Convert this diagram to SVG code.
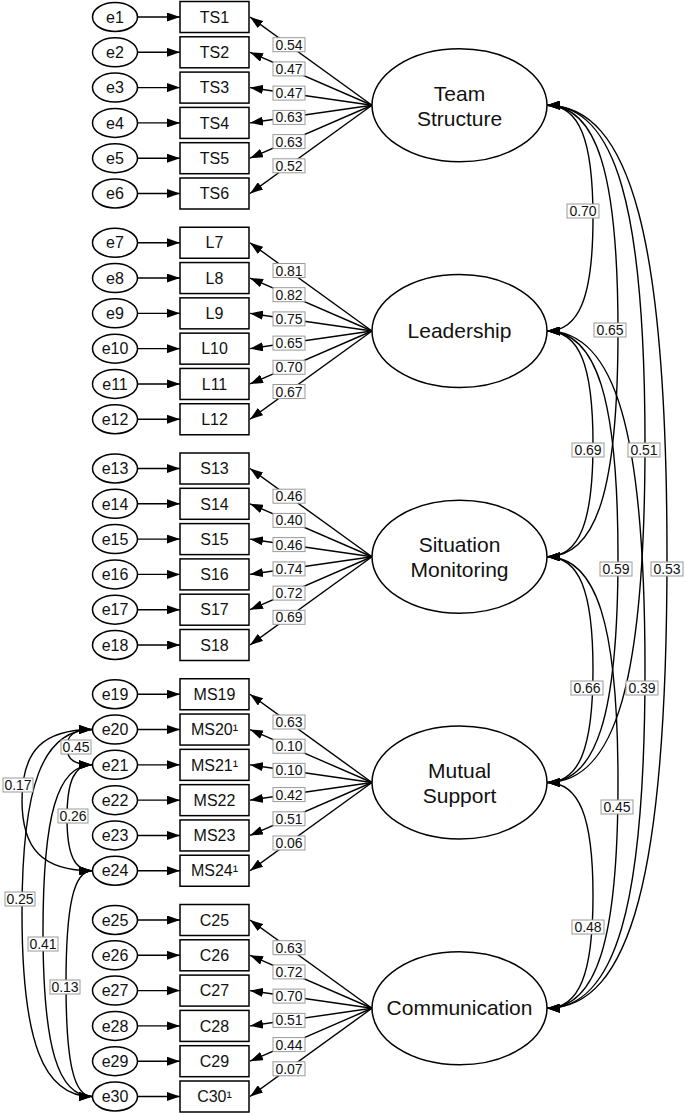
<svg xmlns="http://www.w3.org/2000/svg" width="685" height="1113" viewBox="0 0 685 1113">
<style>
.bg{fill:#fff}
.err{fill:#fff;stroke:#000;stroke-width:1.5}
.ind{fill:#fff;stroke:#000;stroke-width:1.5}
.lat{fill:#fff;stroke:#000;stroke-width:1.5}
.t{font-family:"Liberation Sans",Arial,sans-serif;font-size:16px;fill:#111;text-anchor:middle}
.lt{font-family:"Liberation Sans",Arial,sans-serif;font-size:21px;fill:#111;text-anchor:middle}
.ln{fill:none;stroke:#000;stroke-width:1.4}
.ar{marker-end:url(#ah)}
.cv{fill:none;stroke:#000;stroke-width:1.4;marker-start:url(#ahs);marker-end:url(#ah)}
.lb rect{fill:#fff;stroke:#999;stroke-width:1}
.lb text{font-family:"Liberation Sans",Arial,sans-serif;font-size:14px;fill:#111;text-anchor:middle}
</style>
<defs>
<marker id="ah" viewBox="0 0 13 9" refX="13" refY="4.5" markerWidth="13" markerHeight="9" markerUnits="userSpaceOnUse" orient="auto"><path d="M0,0 L13,4.5 L0,9 z" fill="#000"/></marker>
<marker id="ahs" viewBox="0 0 13 9" refX="13" refY="4.5" markerWidth="13" markerHeight="9" markerUnits="userSpaceOnUse" orient="auto-start-reverse"><path d="M0,0 L13,4.5 L0,9 z" fill="#000"/></marker>
</defs>
<rect class="bg" x="0" y="0" width="685" height="1113"/>

<g id="connectors">
<g id="err-arrows">
<path class="ln ar" d="M137.5,17 H180"/><path class="ln ar" d="M137.5,52.3 H180"/><path class="ln ar" d="M137.5,87.6 H180"/><path class="ln ar" d="M137.5,122.9 H180"/><path class="ln ar" d="M137.5,158.2 H180"/><path class="ln ar" d="M137.5,193.5 H180"/>
<path class="ln ar" d="M137.5,242.75 H180"/><path class="ln ar" d="M137.5,278.05 H180"/><path class="ln ar" d="M137.5,313.35 H180"/><path class="ln ar" d="M137.5,348.65 H180"/><path class="ln ar" d="M137.5,383.95 H180"/><path class="ln ar" d="M137.5,419.25 H180"/>
<path class="ln ar" d="M137.5,468.5 H180"/><path class="ln ar" d="M137.5,503.8 H180"/><path class="ln ar" d="M137.5,539.1 H180"/><path class="ln ar" d="M137.5,574.4 H180"/><path class="ln ar" d="M137.5,609.7 H180"/><path class="ln ar" d="M137.5,645 H180"/>
<path class="ln ar" d="M137.5,694.25 H180"/><path class="ln ar" d="M137.5,729.55 H180"/><path class="ln ar" d="M137.5,764.85 H180"/><path class="ln ar" d="M137.5,800.15 H180"/><path class="ln ar" d="M137.5,835.45 H180"/><path class="ln ar" d="M137.5,870.75 H180"/>
<path class="ln ar" d="M137.5,920 H180"/><path class="ln ar" d="M137.5,955.3 H180"/><path class="ln ar" d="M137.5,990.6 H180"/><path class="ln ar" d="M137.5,1025.9 H180"/><path class="ln ar" d="M137.5,1061.2 H180"/><path class="ln ar" d="M137.5,1096.5 H180"/>
</g>
<g id="loadings">
<path class="ln ar" d="M372,105.25 L250,17"/><path class="ln ar" d="M372,105.25 L250,52.3"/><path class="ln ar" d="M372,105.25 L250,87.6"/><path class="ln ar" d="M372,105.25 L250,122.9"/><path class="ln ar" d="M372,105.25 L250,158.2"/><path class="ln ar" d="M372,105.25 L250,193.5"/>
<path class="ln ar" d="M372,331 L250,242.75"/><path class="ln ar" d="M372,331 L250,278.05"/><path class="ln ar" d="M372,331 L250,313.35"/><path class="ln ar" d="M372,331 L250,348.65"/><path class="ln ar" d="M372,331 L250,383.95"/><path class="ln ar" d="M372,331 L250,419.25"/>
<path class="ln ar" d="M372,556.75 L250,468.5"/><path class="ln ar" d="M372,556.75 L250,503.8"/><path class="ln ar" d="M372,556.75 L250,539.1"/><path class="ln ar" d="M372,556.75 L250,574.4"/><path class="ln ar" d="M372,556.75 L250,609.7"/><path class="ln ar" d="M372,556.75 L250,645"/>
<path class="ln ar" d="M372,782.5 L250,694.25"/><path class="ln ar" d="M372,782.5 L250,729.55"/><path class="ln ar" d="M372,782.5 L250,764.85"/><path class="ln ar" d="M372,782.5 L250,800.15"/><path class="ln ar" d="M372,782.5 L250,835.45"/><path class="ln ar" d="M372,782.5 L250,870.75"/>
<path class="ln ar" d="M372,1008.25 L250,920"/><path class="ln ar" d="M372,1008.25 L250,955.3"/><path class="ln ar" d="M372,1008.25 L250,990.6"/><path class="ln ar" d="M372,1008.25 L250,1025.9"/><path class="ln ar" d="M372,1008.25 L250,1061.2"/><path class="ln ar" d="M372,1008.25 L250,1096.5"/>
</g>
<g id="latent-cov">
<path class="cv" d="M547,105.25 C579.2,105.25 593,139.1 593,218.1 C593,297.1 579.2,331 547,331"/>
<path class="cv" d="M547,105.25 C596.7,105.25 618,173 618,331 C618,489 596.7,556.75 547,556.75"/>
<path class="cv" d="M547,105.25 C615.6,105.25 645,206.9 645,443.9 C645,680.9 615.6,782.5 547,782.5"/>
<path class="cv" d="M547,105.25 C631,105.25 667,240.7 667,556.75 C667,872.8 631,1008.25 547,1008.25"/>
<path class="cv" d="M547,331 C579.2,331 593,364.9 593,443.9 C593,522.9 579.2,556.75 547,556.75"/>
<path class="cv" d="M547,331 C596.7,331 618,398.75 618,556.75 C618,714.75 596.7,782.5 547,782.5"/>
<path class="cv" d="M547,331 C615.6,331 645,432.6 645,669.6 C645,906.6 615.6,1008.25 547,1008.25"/>
<path class="cv" d="M547,556.75 C579.2,556.75 593,590.6 593,669.6 C593,748.6 579.2,782.5 547,782.5"/>
<path class="cv" d="M547,556.75 C596.7,556.75 618,624.5 618,782.5 C618,940.5 596.7,1008.25 547,1008.25"/>
<path class="cv" d="M547,782.5 C579.2,782.5 593,816.4 593,895.4 C593,974.4 579.2,1008.25 547,1008.25"/>
</g>
<g id="error-cov">
<path class="cv" d="M92,729.55 C74.5,729.55 67,734.8 67,747.2 C67,759.6 74.5,764.85 92,764.85"/>
<path class="cv" d="M92,729.55 C43,729.55 22,750.7 22,800.15 C22,849.6 43,870.75 92,870.75"/>
<path class="cv" d="M92,764.85 C74.5,764.85 67,780.7 67,817.8 C67,854.9 74.5,870.75 92,870.75"/>
<path class="cv" d="M92,729.55 C43,729.55 22,784.6 22,913 C22,1041.4 43,1096.5 92,1096.5"/>
<path class="cv" d="M92,764.85 C57.7,764.85 43,814.6 43,930.7 C43,1046.8 57.7,1096.5 92,1096.5"/>
<path class="cv" d="M92,870.75 C73.8,870.75 66,904.6 66,983.6 C66,1062.6 73.8,1096.5 92,1096.5"/>
</g>
<g id="labels" class="lb">
<rect x="273" y="37.7" width="32" height="14"/><text x="289" y="49.7">0.54</text>
<rect x="273" y="61.9" width="32" height="14"/><text x="289" y="73.9">0.47</text>
<rect x="273" y="86.1" width="32" height="14"/><text x="289" y="98.1">0.47</text>
<rect x="273" y="110.4" width="32" height="14"/><text x="289" y="122.4">0.63</text>
<rect x="273" y="134.6" width="32" height="14"/><text x="289" y="146.6">0.63</text>
<rect x="273" y="158.8" width="32" height="14"/><text x="289" y="170.8">0.52</text>

<rect x="273" y="263.5" width="32" height="14"/><text x="289" y="275.5">0.81</text>
<rect x="273" y="287.7" width="32" height="14"/><text x="289" y="299.7">0.82</text>
<rect x="273" y="311.9" width="32" height="14"/><text x="289" y="323.9">0.75</text>
<rect x="273" y="336.1" width="32" height="14"/><text x="289" y="348.1">0.65</text>
<rect x="273" y="360.3" width="32" height="14"/><text x="289" y="372.3">0.70</text>
<rect x="273" y="384.5" width="32" height="14"/><text x="289" y="396.5">0.67</text>

<rect x="273" y="489.2" width="32" height="14"/><text x="289" y="501.2">0.46</text>
<rect x="273" y="513.4" width="32" height="14"/><text x="289" y="525.4">0.40</text>
<rect x="273" y="537.6" width="32" height="14"/><text x="289" y="549.6">0.46</text>
<rect x="273" y="561.9" width="32" height="14"/><text x="289" y="573.9">0.74</text>
<rect x="273" y="586.1" width="32" height="14"/><text x="289" y="598.1">0.72</text>
<rect x="273" y="610.3" width="32" height="14"/><text x="289" y="622.3">0.69</text>

<rect x="273" y="715" width="32" height="14"/><text x="289" y="727">0.63</text>
<rect x="273" y="739.2" width="32" height="14"/><text x="289" y="751.2">0.10</text>
<rect x="273" y="763.4" width="32" height="14"/><text x="289" y="775.4">0.10</text>
<rect x="273" y="787.6" width="32" height="14"/><text x="289" y="799.6">0.42</text>
<rect x="273" y="811.8" width="32" height="14"/><text x="289" y="823.8">0.51</text>
<rect x="273" y="836" width="32" height="14"/><text x="289" y="848">0.06</text>

<rect x="273" y="940.7" width="32" height="14"/><text x="289" y="952.7">0.63</text>
<rect x="273" y="964.9" width="32" height="14"/><text x="289" y="976.9">0.72</text>
<rect x="273" y="989.1" width="32" height="14"/><text x="289" y="1001.1">0.70</text>
<rect x="273" y="1013.4" width="32" height="14"/><text x="289" y="1025.4">0.51</text>
<rect x="273" y="1037.6" width="32" height="14"/><text x="289" y="1049.6">0.44</text>
<rect x="273" y="1061.8" width="32" height="14"/><text x="289" y="1073.8">0.07</text>

<rect x="567" y="204" width="32" height="14"/><text x="583" y="216">0.70</text>
<rect x="594" y="323" width="32" height="14"/><text x="610" y="335">0.65</text>
<rect x="572" y="443" width="32" height="14"/><text x="588" y="455">0.69</text>
<rect x="628" y="443" width="32" height="14"/><text x="644" y="455">0.51</text>
<rect x="600" y="562" width="32" height="14"/><text x="616" y="574">0.59</text>
<rect x="651" y="562" width="32" height="14"/><text x="667" y="574">0.53</text>
<rect x="571" y="681" width="32" height="14"/><text x="587" y="693">0.66</text>
<rect x="626" y="681" width="32" height="14"/><text x="642" y="693">0.39</text>
<rect x="601" y="800" width="32" height="14"/><text x="617" y="812">0.45</text>
<rect x="572" y="920" width="32" height="14"/><text x="588" y="932">0.48</text>

<rect x="61" y="740" width="30" height="14"/><text x="76" y="752">0.45</text>
<rect x="3" y="778" width="30" height="14"/><text x="18" y="790">0.17</text>
<rect x="58" y="809" width="30" height="14"/><text x="73" y="821">0.26</text>
<rect x="5" y="892" width="30" height="14"/><text x="20" y="904">0.25</text>
<rect x="28" y="937" width="30" height="14"/><text x="43" y="949">0.41</text>
<rect x="50" y="980" width="30" height="14"/><text x="65" y="992">0.13</text>
</g>
</g>

<g id="e1"><ellipse class="err" cx="115" cy="17" rx="22.5" ry="14.5"/><text class="t" x="115" y="22.7">e1</text></g>
<g id="e2"><ellipse class="err" cx="115" cy="52.3" rx="22.5" ry="14.5"/><text class="t" x="115" y="58">e2</text></g>
<g id="e3"><ellipse class="err" cx="115" cy="87.6" rx="22.5" ry="14.5"/><text class="t" x="115" y="93.3">e3</text></g>
<g id="e4"><ellipse class="err" cx="115" cy="122.9" rx="22.5" ry="14.5"/><text class="t" x="115" y="128.6">e4</text></g>
<g id="e5"><ellipse class="err" cx="115" cy="158.2" rx="22.5" ry="14.5"/><text class="t" x="115" y="163.9">e5</text></g>
<g id="e6"><ellipse class="err" cx="115" cy="193.5" rx="22.5" ry="14.5"/><text class="t" x="115" y="199.2">e6</text></g>
<g id="e7"><ellipse class="err" cx="115" cy="242.75" rx="22.5" ry="14.5"/><text class="t" x="115" y="248.45">e7</text></g>
<g id="e8"><ellipse class="err" cx="115" cy="278.05" rx="22.5" ry="14.5"/><text class="t" x="115" y="283.75">e8</text></g>
<g id="e9"><ellipse class="err" cx="115" cy="313.35" rx="22.5" ry="14.5"/><text class="t" x="115" y="319.05">e9</text></g>
<g id="e10"><ellipse class="err" cx="115" cy="348.65" rx="22.5" ry="14.5"/><text class="t" x="115" y="354.35">e10</text></g>
<g id="e11"><ellipse class="err" cx="115" cy="383.95" rx="22.5" ry="14.5"/><text class="t" x="115" y="389.65">e11</text></g>
<g id="e12"><ellipse class="err" cx="115" cy="419.25" rx="22.5" ry="14.5"/><text class="t" x="115" y="424.95">e12</text></g>
<g id="e13"><ellipse class="err" cx="115" cy="468.5" rx="22.5" ry="14.5"/><text class="t" x="115" y="474.2">e13</text></g>
<g id="e14"><ellipse class="err" cx="115" cy="503.8" rx="22.5" ry="14.5"/><text class="t" x="115" y="509.5">e14</text></g>
<g id="e15"><ellipse class="err" cx="115" cy="539.1" rx="22.5" ry="14.5"/><text class="t" x="115" y="544.8">e15</text></g>
<g id="e16"><ellipse class="err" cx="115" cy="574.4" rx="22.5" ry="14.5"/><text class="t" x="115" y="580.1">e16</text></g>
<g id="e17"><ellipse class="err" cx="115" cy="609.7" rx="22.5" ry="14.5"/><text class="t" x="115" y="615.4">e17</text></g>
<g id="e18"><ellipse class="err" cx="115" cy="645" rx="22.5" ry="14.5"/><text class="t" x="115" y="650.7">e18</text></g>
<g id="e19"><ellipse class="err" cx="115" cy="694.25" rx="22.5" ry="14.5"/><text class="t" x="115" y="699.95">e19</text></g>
<g id="e20"><ellipse class="err" cx="115" cy="729.55" rx="22.5" ry="14.5"/><text class="t" x="115" y="735.25">e20</text></g>
<g id="e21"><ellipse class="err" cx="115" cy="764.85" rx="22.5" ry="14.5"/><text class="t" x="115" y="770.55">e21</text></g>
<g id="e22"><ellipse class="err" cx="115" cy="800.15" rx="22.5" ry="14.5"/><text class="t" x="115" y="805.85">e22</text></g>
<g id="e23"><ellipse class="err" cx="115" cy="835.45" rx="22.5" ry="14.5"/><text class="t" x="115" y="841.15">e23</text></g>
<g id="e24"><ellipse class="err" cx="115" cy="870.75" rx="22.5" ry="14.5"/><text class="t" x="115" y="876.45">e24</text></g>
<g id="e25"><ellipse class="err" cx="115" cy="920" rx="22.5" ry="14.5"/><text class="t" x="115" y="925.7">e25</text></g>
<g id="e26"><ellipse class="err" cx="115" cy="955.3" rx="22.5" ry="14.5"/><text class="t" x="115" y="961">e26</text></g>
<g id="e27"><ellipse class="err" cx="115" cy="990.6" rx="22.5" ry="14.5"/><text class="t" x="115" y="996.3">e27</text></g>
<g id="e28"><ellipse class="err" cx="115" cy="1025.9" rx="22.5" ry="14.5"/><text class="t" x="115" y="1031.6">e28</text></g>
<g id="e29"><ellipse class="err" cx="115" cy="1061.2" rx="22.5" ry="14.5"/><text class="t" x="115" y="1066.9">e29</text></g>
<g id="e30"><ellipse class="err" cx="115" cy="1096.5" rx="22.5" ry="14.5"/><text class="t" x="115" y="1102.2">e30</text></g>

<g id="TS1"><rect class="ind" x="180" y="1.5" width="69" height="31"/><text class="t" x="214.5" y="22.7">TS1</text></g>
<g id="TS2"><rect class="ind" x="180" y="36.8" width="69" height="31"/><text class="t" x="214.5" y="58">TS2</text></g>
<g id="TS3"><rect class="ind" x="180" y="72.1" width="69" height="31"/><text class="t" x="214.5" y="93.3">TS3</text></g>
<g id="TS4"><rect class="ind" x="180" y="107.4" width="69" height="31"/><text class="t" x="214.5" y="128.6">TS4</text></g>
<g id="TS5"><rect class="ind" x="180" y="142.7" width="69" height="31"/><text class="t" x="214.5" y="163.9">TS5</text></g>
<g id="TS6"><rect class="ind" x="180" y="178" width="69" height="31"/><text class="t" x="214.5" y="199.2">TS6</text></g>
<g id="L7"><rect class="ind" x="180" y="227.25" width="69" height="31"/><text class="t" x="214.5" y="248.45">L7</text></g>
<g id="L8"><rect class="ind" x="180" y="262.55" width="69" height="31"/><text class="t" x="214.5" y="283.75">L8</text></g>
<g id="L9"><rect class="ind" x="180" y="297.85" width="69" height="31"/><text class="t" x="214.5" y="319.05">L9</text></g>
<g id="L10"><rect class="ind" x="180" y="333.15" width="69" height="31"/><text class="t" x="214.5" y="354.35">L10</text></g>
<g id="L11"><rect class="ind" x="180" y="368.45" width="69" height="31"/><text class="t" x="214.5" y="389.65">L11</text></g>
<g id="L12"><rect class="ind" x="180" y="403.75" width="69" height="31"/><text class="t" x="214.5" y="424.95">L12</text></g>
<g id="S13"><rect class="ind" x="180" y="453" width="69" height="31"/><text class="t" x="214.5" y="474.2">S13</text></g>
<g id="S14"><rect class="ind" x="180" y="488.3" width="69" height="31"/><text class="t" x="214.5" y="509.5">S14</text></g>
<g id="S15"><rect class="ind" x="180" y="523.6" width="69" height="31"/><text class="t" x="214.5" y="544.8">S15</text></g>
<g id="S16"><rect class="ind" x="180" y="558.9" width="69" height="31"/><text class="t" x="214.5" y="580.1">S16</text></g>
<g id="S17"><rect class="ind" x="180" y="594.2" width="69" height="31"/><text class="t" x="214.5" y="615.4">S17</text></g>
<g id="S18"><rect class="ind" x="180" y="629.5" width="69" height="31"/><text class="t" x="214.5" y="650.7">S18</text></g>
<g id="MS19"><rect class="ind" x="180" y="678.75" width="69" height="31"/><text class="t" x="214.5" y="699.95">MS19</text></g>
<g id="MS20"><rect class="ind" x="180" y="714.05" width="69" height="31"/><text class="t" x="214.5" y="735.25">MS20¹</text></g>
<g id="MS21"><rect class="ind" x="180" y="749.35" width="69" height="31"/><text class="t" x="214.5" y="770.55">MS21¹</text></g>
<g id="MS22"><rect class="ind" x="180" y="784.65" width="69" height="31"/><text class="t" x="214.5" y="805.85">MS22</text></g>
<g id="MS23"><rect class="ind" x="180" y="819.95" width="69" height="31"/><text class="t" x="214.5" y="841.15">MS23</text></g>
<g id="MS24"><rect class="ind" x="180" y="855.25" width="69" height="31"/><text class="t" x="214.5" y="876.45">MS24¹</text></g>
<g id="C25"><rect class="ind" x="180" y="904.5" width="69" height="31"/><text class="t" x="214.5" y="925.7">C25</text></g>
<g id="C26"><rect class="ind" x="180" y="939.8" width="69" height="31"/><text class="t" x="214.5" y="961">C26</text></g>
<g id="C27"><rect class="ind" x="180" y="975.1" width="69" height="31"/><text class="t" x="214.5" y="996.3">C27</text></g>
<g id="C28"><rect class="ind" x="180" y="1010.4" width="69" height="31"/><text class="t" x="214.5" y="1031.6">C28</text></g>
<g id="C29"><rect class="ind" x="180" y="1045.7" width="69" height="31"/><text class="t" x="214.5" y="1066.9">C29</text></g>
<g id="C30"><rect class="ind" x="180" y="1081" width="69" height="31"/><text class="t" x="214.5" y="1102.2">C30¹</text></g>

<g id="TeamStructure"><ellipse class="lat" cx="459.5" cy="105.25" rx="87.5" ry="56.5"/><text class="lt" x="459.5" y="100.75">Team</text><text class="lt" x="459.5" y="125.75">Structure</text></g>
<g id="Leadership"><ellipse class="lat" cx="459.5" cy="331" rx="87.5" ry="56.5"/><text class="lt" x="459.5" y="338">Leadership</text></g>
<g id="SituationMonitoring"><ellipse class="lat" cx="459.5" cy="556.75" rx="87.5" ry="56.5"/><text class="lt" x="459.5" y="552.25">Situation</text><text class="lt" x="459.5" y="577.25">Monitoring</text></g>
<g id="MutualSupport"><ellipse class="lat" cx="459.5" cy="782.5" rx="87.5" ry="56.5"/><text class="lt" x="459.5" y="778">Mutual</text><text class="lt" x="459.5" y="803">Support</text></g>
<g id="Communication"><ellipse class="lat" cx="459.5" cy="1008.25" rx="87.5" ry="56.5"/><text class="lt" x="459.5" y="1015.25">Communication</text></g>
</svg>
